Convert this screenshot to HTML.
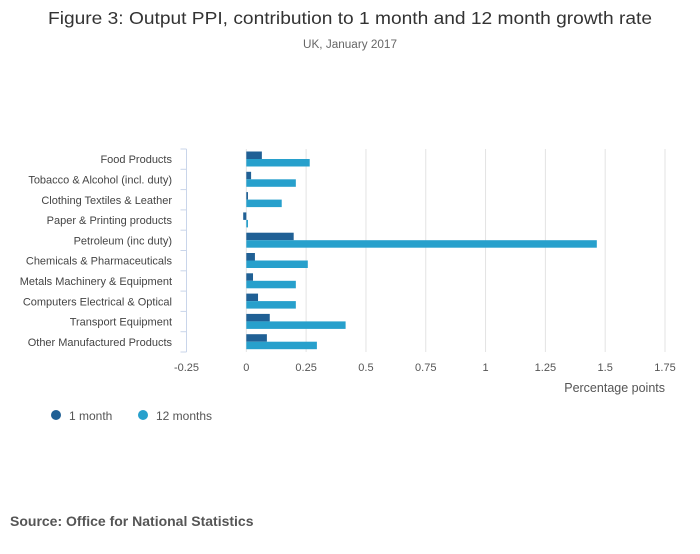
<!DOCTYPE html>
<html><head><meta charset="utf-8"><style>
body{margin:0;background:#fff;font-family:"Liberation Sans",sans-serif;}
svg text{font-family:"Liberation Sans",sans-serif;}
</style></head><body>
<svg id="chart" width="700" height="549" xmlns="http://www.w3.org/2000/svg">
<rect width="700" height="549" fill="#fff"/>
<text x="350" y="24" text-anchor="middle" font-size="17.5" fill="#333" textLength="604" lengthAdjust="spacingAndGlyphs">Figure 3: Output PPI, contribution to 1 month and 12 month growth rate</text>
<text x="350" y="48" text-anchor="middle" font-size="11.5" fill="#666" textLength="94" lengthAdjust="spacingAndGlyphs">UK, January 2017</text>
<g id="grid"></g><g id="bars"></g><g id="axes"></g>
<text x="665" y="392" text-anchor="end" font-size="12.5" fill="#555">Percentage points</text>
<circle cx="56" cy="415" r="5" fill="#206095"/>
<text x="69" y="420" font-size="12" fill="#555">1 month</text>
<circle cx="143" cy="415" r="5" fill="#27a0cc"/>
<text x="156" y="420" font-size="12" fill="#555">12 months</text>
<text x="10" y="526" font-size="14" font-weight="bold" fill="#555">Source: Office for National Statistics</text>
</svg>
<script>
const categories=["Food Products","Tobacco & Alcohol (incl. duty)","Clothing Textiles & Leather","Paper & Printing products","Petroleum (inc duty)","Chemicals & Pharmaceuticals","Metals Machinery & Equipment","Computers Electrical & Optical","Transport Equipment","Other Manufactured Products"];
const oneMonth=[0.065,0.02,0.007,-0.013,0.198,0.036,0.028,0.049,0.098,0.086];
const twelveMonths=[0.265,0.207,0.148,0.007,1.465,0.257,0.207,0.207,0.415,0.295];
const tickValues=[-0.25,0,0.25,0.5,0.75,1,1.25,1.5,1.75];
const tickLabels=["-0.25","0","0.25","0.5","0.75","1","1.25","1.5","1.75"];
const NS="http://www.w3.org/2000/svg";
const x0=186.5,x1=665,vmin=-0.25,vmax=1.75,yTop=149,yBottom=352;
const xs=v=>x0+(v-vmin)/(vmax-vmin)*(x1-x0);
const band=(yBottom-yTop)/categories.length;
function mk(tag,attrs,parent){const e=document.createElementNS(NS,tag);for(const k in attrs)e.setAttribute(k,attrs[k]);document.getElementById(parent).appendChild(e);return e;}
tickValues.forEach((v,i)=>{
  if(v!==vmin){const g=mk('line',{x1:xs(v),x2:xs(v),y1:yTop,y2:yBottom,stroke:'#e3e3e3','stroke-width':1},'grid');
  
  }
  const t=mk('text',{x:xs(v),y:371,'text-anchor':'middle','font-size':'11',fill:'#555'},'axes');
  t.textContent=tickLabels[i];
  
  
});
const ax=mk('line',{x1:x0,x2:x0,y1:yTop,y2:yBottom,stroke:'#c9d5ea','stroke-width':1},'axes');


categories.forEach((c,i)=>{
  const y=yTop+i*band;
  const tk=mk('line',{x1:x0-6,x2:x0,y1:y,y2:y,stroke:'#c9d5ea'},'axes');
  
  
  const t=mk('text',{x:172,y:y+band/2+4,'text-anchor':'end','font-size':'11',fill:'#444'},'axes');
  t.textContent=c;
  
  
  const a=oneMonth[i],b=twelveMonths[i];
  const r1=mk('rect',{x:Math.min(xs(0),xs(a)),y:y+2.5,width:Math.abs(xs(a)-xs(0)),height:7.5,fill:'#206095'},'bars');
  
  
  const r2=mk('rect',{x:Math.min(xs(0),xs(b)),y:y+10,width:Math.abs(xs(b)-xs(0)),height:7.5,fill:'#27a0cc'},'bars');
  
  
});
const tkEnd=mk('line',{x1:x0-6,x2:x0,y1:yBottom,y2:yBottom,stroke:'#c9d5ea'},'axes');


</script>
</body></html>
